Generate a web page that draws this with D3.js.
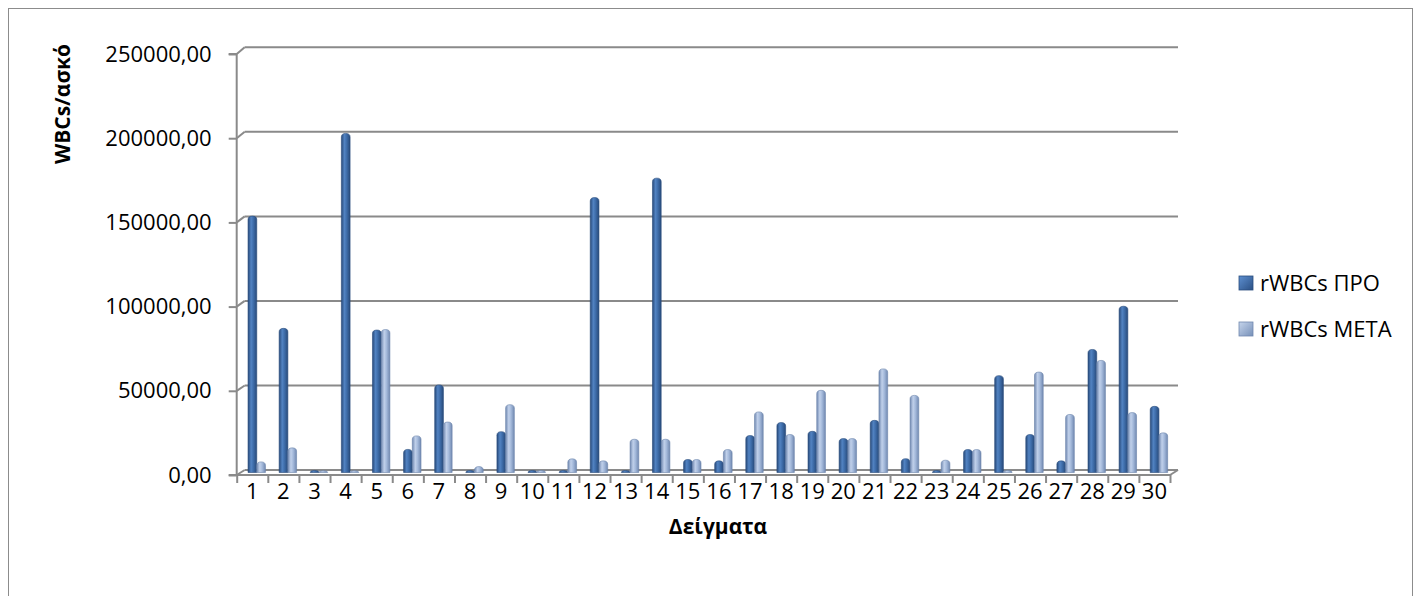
<!DOCTYPE html>
<html>
<head>
<meta charset="utf-8">
<script src="https://cdn.jsdelivr.net/npm/d3@7"></script>
<style>
  html, body { margin: 0; padding: 0; background: #fff; }
  svg { display: block; }
</style>
</head>
<body>
<svg id="chart" width="1421" height="596"></svg>
<script>
const categories = Array.from({length: 30}, (_, i) => String(i + 1));
const seriesNames = ["rWBCs ΠΡΟ", "rWBCs META"];
const proValues = [151000, 84500, 300, 200000, 83500, 12800, 51000, 300, 23300, 300,
                   300, 162000, 300, 173500, 6800, 6000, 21000, 28700, 23500, 19200,
                   30000, 7300, 300, 12700, 56500, 21600, 6000, 72000, 97600, 38300];
const metaValues = [5400, 13700, 200, 200, 83800, 20800, 29000, 2600, 39300, 300,
                    7200, 6000, 18800, 18800, 6800, 12700, 35000, 21600, 47800, 19200,
                    60500, 44800, 6400, 12700, 300, 58600, 33500, 65500, 34600, 22600];
const yTicks = [0, 50000, 100000, 150000, 200000, 250000];
const yTitle = "WBCs/ασκό";
const xTitle = "Δείγματα";

const svg = d3.select("#chart");
const FONT = "'Open Sans', 'DejaVu Sans', sans-serif";
const GRID = "#8a8a8a";

// outer frame
svg.append("rect").attr("x", 8.5).attr("y", 8.5).attr("width", 1404).attr("height", 600)
  .attr("fill", "none").attr("stroke", "#8c8c8c").attr("stroke-width", 1);

// geometry (3D look: back wall shifted right/up)
const frontLeft = 236.7, frontRight = 1170;
const dx = 8;
const yFront = d3.scaleLinear().domain([0, 250000]).range([475, 54]);
const yBack = d3.scaleLinear().domain([0, 250000]).range([470, 47.3]);
const yBar = d3.scaleLinear().domain([0, 250000]).range([472.5, 50.5]);

const defs = svg.append("defs");
function grad(id, edge, mid, light) {
  const g = defs.append("linearGradient").attr("id", id).attr("x1", "0").attr("x2", "1").attr("y1", "0").attr("y2", "0");
  g.append("stop").attr("offset", "0%").attr("stop-color", edge);
  g.append("stop").attr("offset", "35%").attr("stop-color", light);
  g.append("stop").attr("offset", "60%").attr("stop-color", mid);
  g.append("stop").attr("offset", "100%").attr("stop-color", edge);
}
grad("gPro", "#284a7a", "#3f6eab", "#5283c2");
grad("gMeta", "#7189b1", "#a6bbdc", "#c0d0ea");
function lgrad(id, c1, c2) {
  const g = defs.append("linearGradient").attr("id", id).attr("x1", "0").attr("x2", "1").attr("y1", "0").attr("y2", "1");
  g.append("stop").attr("offset", "0%").attr("stop-color", c1);
  g.append("stop").attr("offset", "100%").attr("stop-color", c2);
}
lgrad("lPro", "#5d8fd0", "#2b5084");
lgrad("lMeta", "#c6d5ec", "#7690b8");

// back wall gridlines
const g = svg.append("g");
yTicks.forEach(t => {
  g.append("line").attr("x1", frontLeft + dx).attr("x2", frontRight + dx)
    .attr("y1", yBack(t)).attr("y2", yBack(t))
    .attr("stroke", GRID).attr("stroke-width", 2);
  g.append("line").attr("x1", frontLeft).attr("x2", frontLeft + dx)
    .attr("y1", yFront(t)).attr("y2", yBack(t))
    .attr("stroke", GRID).attr("stroke-width", 2);
});
// floor
g.append("line").attr("x1", frontLeft).attr("x2", frontRight).attr("y1", yFront(0)).attr("y2", yFront(0))
  .attr("stroke", GRID).attr("stroke-width", 2);
g.append("line").attr("x1", frontRight).attr("x2", frontRight + dx).attr("y1", yFront(0)).attr("y2", yBack(0))
  .attr("stroke", GRID).attr("stroke-width", 2);

// y axis (front)
const locale = d3.formatLocale({decimal: ",", thousands: "", grouping: [3], currency: ["", ""]});
const fmt = locale.format(".2f");
const yAxis = d3.axisLeft(yFront).tickValues(yTicks).tickFormat(fmt).tickSize(8).tickPadding(17);
const ya = svg.append("g").attr("transform", `translate(${frontLeft},0)`).call(yAxis);
ya.select(".domain").attr("stroke", GRID).attr("stroke-width", 2).attr("d", `M-8,${yFront(250000)}H0V${yFront(0)}H-8`);
ya.selectAll(".tick line").attr("stroke", GRID).attr("stroke-width", 2);
ya.selectAll(".tick text").attr("font-family", FONT).attr("font-size", 22).attr("fill", "#000");

// x axis (front): ticks at boundaries, labels at centres
const xEdge = d3.scaleLinear().domain([0, 30]).range([frontLeft, frontRight]);
const xt = svg.append("g").attr("transform", `translate(0,${yFront(0)})`)
  .call(d3.axisBottom(xEdge).tickValues(d3.range(0, 31)).tickFormat("").tickSize(8));
xt.select(".domain").remove();
xt.selectAll(".tick line").attr("stroke", GRID).attr("stroke-width", 2);
const xLab = d3.scaleBand().domain(categories).range([frontLeft, frontRight]);
const xl = svg.append("g").attr("transform", `translate(0,${yFront(0)})`)
  .call(d3.axisBottom(xLab).tickSize(0).tickPadding(8));
xl.select(".domain").remove();
xl.selectAll(".tick text").attr("font-family", FONT).attr("font-size", 22).attr("fill", "#000");

// bars (mid-depth)
const x0 = d3.scaleBand().domain(categories).range([frontLeft + 4.5, frontRight + 4.5])
  .paddingInner(0.44).paddingOuter(0.22);
const x1 = d3.scaleBand().domain(seriesNames).range([0, x0.bandwidth()]);
const rows = categories.map((c, i) => ({c, vals: [
  {s: seriesNames[0], v: proValues[i], fill: "url(#gPro)", stroke: "#27497a"},
  {s: seriesNames[1], v: metaValues[i], fill: "url(#gMeta)", stroke: "#6c84ab"}
]}));
function barPath(x, w, yTop, yBase) {
  const h = yBase - yTop;
  const r = Math.min(w / 2, 3.5, h);
  if (h <= 0.01) return "";
  return `M${x},${yBase} V${yTop + r} Q${x},${yTop} ${x + w / 2},${yTop} Q${x + w},${yTop} ${x + w},${yTop + r} V${yBase} Z`;
}
const bars = svg.append("g");
rows.forEach(row => {
  row.vals.forEach(d => {
    const x = x0(row.c) + x1(d.s);
    const w = x1.bandwidth();
    bars.append("path")
      .attr("d", barPath(x, w, yBar(d.v) - 1.5, yBar(0)))
      .attr("fill", d.fill).attr("stroke", d.stroke).attr("stroke-width", 0.6);
  });
});

// axis titles
svg.append("text").attr("transform", "translate(70,104) rotate(-90)")
  .attr("text-anchor", "middle").attr("font-family", FONT).attr("font-weight", "bold")
  .attr("font-size", 21).attr("fill", "#000").text(yTitle);
svg.append("text").attr("x", 718).attr("y", 534)
  .attr("text-anchor", "middle").attr("font-family", FONT).attr("font-weight", "bold")
  .attr("font-size", 21).attr("fill", "#000").text(xTitle);

// legend
const legend = svg.append("g");
[["lPro", seriesNames[0], 283], ["lMeta", seriesNames[1], 329]].forEach(([gid, name, cy]) => {
  legend.append("rect").attr("x", 1239).attr("y", cy - 7).attr("width", 14).attr("height", 14)
    .attr("fill", `url(#${gid})`).attr("stroke", gid === "lPro" ? "#2a4d7d" : "#7088ae").attr("stroke-width", 0.8);
  legend.append("text").attr("x", 1260).attr("y", cy).attr("dy", "0.36em")
    .attr("font-family", FONT).attr("font-size", 22).attr("fill", "#000").text(name);
});
</script>
</body>
</html>
